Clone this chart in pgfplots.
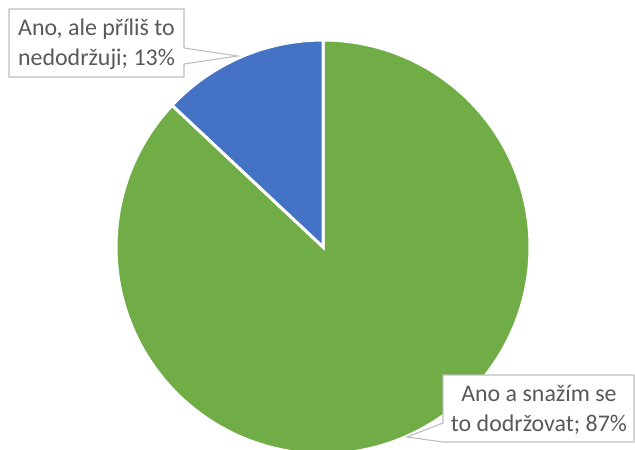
\documentclass[border=0pt]{standalone}
\usepackage{pgfplots}
\pgfplotsset{compat=1.18}
\usepackage{fontspec}
\setmainfont{Carlito}
\definecolor{pieblue}{HTML}{4472C4}
\definecolor{piegreen}{HTML}{70AD47}
\definecolor{txt}{HTML}{595959}
\definecolor{boxline}{HTML}{BFBFBF}
\begin{document}
\begin{tikzpicture}
\begin{axis}[
  at={(0,0)}, anchor=south west,
  scale only axis, width=635bp, height=450bp,
  xmin=0, xmax=635, ymin=0, ymax=450,
  hide axis, clip=true,
]
% pie centre (323,203), radius 207; shares: 13 % and 87 %
\addplot[fill=piegreen, draw=white, line width=3bp, domain={90+13*3.6}:{450}, samples=180]
  ({323+207*cos(x)},{203+207*sin(x)}) -- (axis cs:323,203) -- cycle;
\addplot[fill=pieblue, draw=white, line width=3bp, domain=90:{90+13*3.6}, samples=40]
  ({323+207*cos(x)},{203+207*sin(x)}) -- (axis cs:323,203) -- cycle;
% callout 1
\draw[boxline, fill=white, line width=1.1bp]
  (axis cs:9,441) -- (axis cs:184,441) -- (axis cs:184,402) -- (axis cs:238,394)
  -- (axis cs:184,386) -- (axis cs:184,373) -- (axis cs:9,373) -- cycle;
\node[txt, font=\fontsize{24}{30}\selectfont, align=center] at (axis cs:96.5,406)
  {Ano, ale příliš to\\nedodržuji; 13\%};
% callout 2
\draw[boxline, fill=white, line width=1.1bp]
  (axis cs:443,75) -- (axis cs:634,75) -- (axis cs:634,8) -- (axis cs:443,8)
  -- (axis cs:407,13) -- (axis cs:443,27) -- cycle;
\node[txt, font=\fontsize{24}{30}\selectfont, align=center] at (axis cs:539,40.5)
  {Ano a snažím se\\to dodržovat; 87\%};
\end{axis}
\pgfresetboundingbox
\useasboundingbox (0,0) rectangle (635bp,450bp);
\end{tikzpicture}
\end{document}
